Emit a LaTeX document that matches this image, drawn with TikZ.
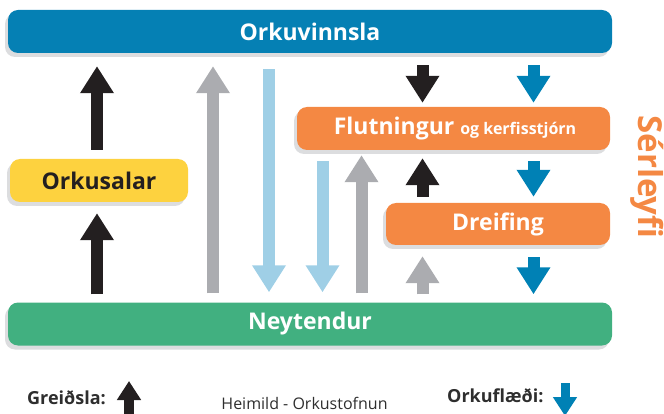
\documentclass[tikz,border=0pt]{standalone}
\usepackage{fontspec}
\setmainfont{Open Sans}
\usetikzlibrary{arrows.meta,calc}
\definecolor{cBlue}{HTML}{0580B4}
\definecolor{cGreen}{HTML}{41B080}
\definecolor{cYellow}{HTML}{FDD23F}
\definecolor{cOrange}{HTML}{F48843}
\definecolor{cShadow}{HTML}{DCDDDF}
\definecolor{cBlack}{HTML}{231F20}
\definecolor{cGray}{HTML}{ABACB0}
\definecolor{cLight}{HTML}{9FCFE6}
\definecolor{cArrBlue}{HTML}{0081B5}
\definecolor{cText}{HTML}{2E2E2E}
\tikzset{
  bar/.style={rounded corners=10pt, minimum height=43pt, inner sep=0pt, text=white,
    font=\fontsize{23}{23}\selectfont\bfseries,
    preaction={fill=cShadow, transform canvas={shift={(-3pt,-4pt)}}}},
  flow/.style={line width=12pt, -{Triangle[width=32pt,length=27pt]}},
  blackflow/.style={flow, draw=cBlack},
  grayflow/.style={flow, draw=cGray},
  lightflow/.style={flow, draw=cLight},
  blueflow/.style={flow, draw=cArrBlue},
  legendflow/.style={line width=10pt, -{Triangle[width=23pt,length=19pt]}},
}
\begin{document}
\begin{tikzpicture}[x=1pt,y=-1pt]
\useasboundingbox (0,0) rectangle (664,414);
% boxes
\node[bar, fill=cBlue, minimum width=604pt] (vinnsla) at (310,31.5) {Orkuvinnsla};
\node[bar, fill=cGreen, minimum width=604pt] (neyt) at (310,324) {Neytendur};
\node[bar, fill=cYellow, text=cBlack, minimum width=178pt] (sala) at (99,180.5) {Orkusalar};
\node[bar, fill=cOrange, minimum width=313pt] (flut) at (453.5,128.5) {\hspace*{3pt}Flutningur \fontsize{16}{16}\selectfont og kerfisstjórn};
\node[bar, fill=cOrange, minimum width=224pt, minimum height=42pt] (dreif) at (498,224) {Dreifing};
\node[text=cOrange, font=\fontsize{33}{33}\selectfont\bfseries, rotate=-90, inner sep=0pt] (serl) at (647,177) {Sérleyfi};
% x positions
\coordinate (xA) at (97,0);
\coordinate (xB) at (213,0);
\coordinate (xC) at (269,0);
\coordinate (xD) at (322.5,0);
\coordinate (xE) at (361.5,0);
\coordinate (xF) at (422.5,0);
\coordinate (xG) at (533.5,0);
% arrows
\draw[blackflow, shorten <=9pt, shorten >=13pt] (sala.north -| xA) -- (vinnsla.south -| xA);
\draw[blackflow, shorten <=8pt, shorten >=11pt] (neyt.north -| xA) -- (sala.south -| xA);
\draw[grayflow, shorten <=9pt, shorten >=13pt] (neyt.north -| xB) -- (vinnsla.south -| xB);
\draw[lightflow, shorten <=16pt, shorten >=10pt] (vinnsla.south -| xC) -- (neyt.north -| xC);
\draw[lightflow, shorten <=11pt, shorten >=10pt] (flut.south -| xD) -- (neyt.north -| xD);
\draw[grayflow, shorten <=9pt, shorten >=5pt] (neyt.north -| xE) -- (flut.south -| xE);
\draw[blackflow, shorten <=12pt, shorten >=4pt] (vinnsla.south -| xF) -- (flut.north -| xF);
\draw[blueflow, shorten <=12pt, shorten >=4pt] (vinnsla.south -| xG) -- (flut.north -| xG);
\draw[blackflow, shorten <=6pt, shorten >=8pt] (dreif.north -| xF) -- (flut.south -| xF);
\draw[blueflow, shorten <=11pt, shorten >=6pt] (flut.south -| xG) -- (dreif.north -| xG);
\draw[grayflow, shorten <=8pt, shorten >=11pt] (neyt.north -| xF) -- (dreif.south -| xF);
\draw[blueflow, shorten <=12pt, shorten >=8pt] (dreif.south -| xG) -- (neyt.north -| xG);
% legend
\node[anchor=base west, inner sep=0pt, text=cText, font=\fontsize{18}{18}\selectfont\bfseries] (greid) at (27,404) {Greiðsla:};
\coordinate (gA) at (129,416);
\coordinate (gB) at (129,381);
\draw[legendflow, draw=cBlack] (gA) -- (gB);
\node[anchor=base, inner sep=0pt, text=cText, font=\fontsize{16}{16}\selectfont] (heim) at (304.5,409) {Heimild - Orkustofnun};
\node[anchor=base west, inner sep=0pt, text=cText, font=\fontsize{18}{18}\selectfont\bfseries] (flaedi) at (447,402) {Orkuflæði:};
\coordinate (fA) at (565,383);
\coordinate (fB) at (565,416);
\draw[legendflow, draw=cArrBlue, line width=9pt] (fA) -- (fB);
\end{tikzpicture}
\end{document}
